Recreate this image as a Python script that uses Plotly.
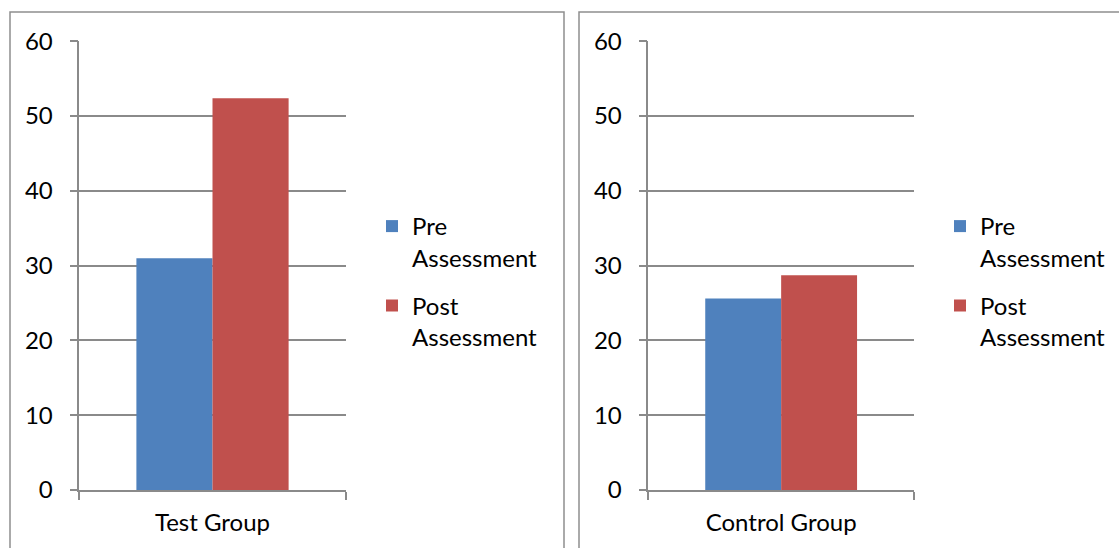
import plotly.graph_objects as go

groups_left = ["Test Group"]
groups_right = ["Control Group"]
series_names = ["Pre<br>Assessment", "Post<br>Assessment"]
test_values = [31.0, 52.4]
control_values = [25.6, 28.7]
colors = ["#4F81BD", "#C0504D"]
y_ticks = [0, 10, 20, 30, 40, 50, 60]

W, H = 1119, 548
FONT = "Lato"
FS = 24
GRID = "#8a8a8a"

def px_x(v):
    return v / W

def px_y(v):
    return 1 - v / H

fig = go.Figure()

for i, name in enumerate(series_names):
    fig.add_trace(go.Bar(
        x=groups_left, y=[test_values[i]], name=name,
        marker=dict(color=colors[i], line=dict(width=0)),
        xaxis="x", yaxis="y", legend="legend", legendgroup="L%d" % i,
    ))
for i, name in enumerate(series_names):
    fig.add_trace(go.Bar(
        x=groups_right, y=[control_values[i]], name=name,
        marker=dict(color=colors[i], line=dict(width=0)),
        xaxis="x2", yaxis="y2", legend="legend2", legendgroup="R%d" % i,
    ))

ydom = [px_y(490), px_y(41.3)]

def yaxis(anchor):
    return dict(
        domain=ydom, anchor=anchor, range=[0, 60], tickvals=y_ticks,
        showgrid=True, gridcolor=GRID, gridwidth=1.5,
        showline=True, linecolor=GRID, linewidth=1.5,
        ticks="outside", ticklen=8, tickcolor=GRID, tickwidth=1.5,
        zeroline=False, ticklabelstandoff=12, automargin=False,
        tickfont=dict(family=FONT, size=FS, color="black"),
        fixedrange=True,
    )

def xaxis(dom, anchor):
    return dict(
        domain=dom, anchor=anchor, type="category",
        showgrid=False, showline=True, linecolor=GRID, linewidth=1.5,
        ticks="outside", tickson="boundaries", ticklen=8,
        tickcolor=GRID, tickwidth=1.5, ticklabelstandoff=10,
        automargin=False,
        tickfont=dict(family=FONT, size=FS, color="black"),
        fixedrange=True,
    )

legend_common = dict(
    font=dict(family=FONT, size=FS, color="black"),
    bgcolor="rgba(0,0,0,0)", borderwidth=0,
    xanchor="left", yanchor="top", valign="top",
    tracegroupgap=14, itemclick=False, itemdoubleclick=False,
)

fig.update_layout(
    width=W, height=H, autosize=False,
    margin=dict(l=0, r=0, t=0, b=0, autoexpand=False),
    paper_bgcolor="white", plot_bgcolor="white",
    barmode="group", bargap=1.5 / 3.5, bargroupgap=0,
    xaxis=xaxis([px_x(79.3), px_x(345.7)], "y"),
    yaxis=yaxis("x"),
    xaxis2=xaxis([px_x(648.3), px_x(914)], "y2"),
    yaxis2=yaxis("x2"),
    legend=dict(x=px_x(372), y=px_y(204), **legend_common),
    legend2=dict(x=px_x(940), y=px_y(204), **legend_common),
    showlegend=True,
    shapes=[
        dict(type="rect", xref="paper", yref="paper",
             x0=px_x(10), x1=px_x(564), y0=px_y(560), y1=px_y(12),
             line=dict(color="#8e8e8e", width=1.5), layer="below"),
        dict(type="rect", xref="paper", yref="paper",
             x0=px_x(579), x1=px_x(1133), y0=px_y(560), y1=px_y(12),
             line=dict(color="#8e8e8e", width=1.5), layer="below"),
    ],
)

fig.write_html(
    "out.html",
    config={"displayModeBar": False},
    post_script="document.body.style.margin='0';document.body.style.overflow='hidden';",
)
